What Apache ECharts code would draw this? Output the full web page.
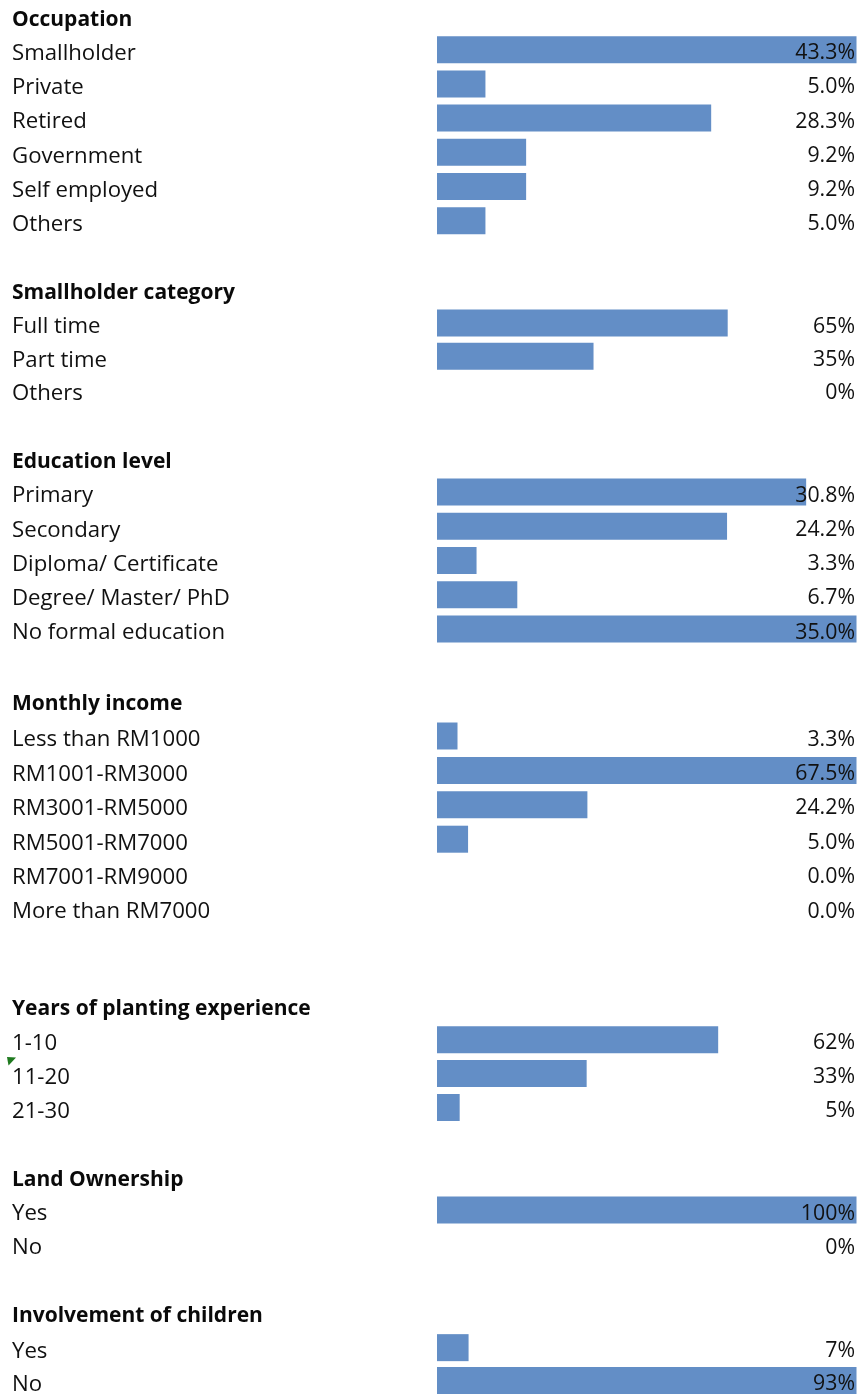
<!DOCTYPE html>
<html>
<head>
<meta charset="utf-8">
<script src="https://cdn.jsdelivr.net/npm/echarts@6/dist/echarts.min.js"></script>
<style>
html,body{margin:0;padding:0;background:#fff;}
#chart{width:858px;height:1397px;}
</style>
</head>
<body>
<div id="chart"></div>
<script>
// ---- Data ----
const sectionTitles = ['Occupation', 'Smallholder category', 'Education level', 'Monthly income',
  'Years of planting experience', 'Land Ownership', 'Involvement of children'];

const occupationCats = ['Smallholder', 'Private', 'Retired', 'Government', 'Self employed', 'Others'];
const occupationVals = [43.3, 5.0, 28.3, 9.2, 9.2, 5.0];

const categoryCats = ['Full time', 'Part time', 'Others'];
const categoryVals = [65, 35, 0];

const educationCats = ['Primary', 'Secondary', 'Diploma/ Certificate', 'Degree/ Master/ PhD', 'No formal education'];
const educationVals = [30.8, 24.2, 3.3, 6.7, 35.0];

const incomeCats = ['Less than RM1000', 'RM1001-RM3000', 'RM3001-RM5000', 'RM5001-RM7000', 'RM7001-RM9000', 'More than RM7000'];
const incomeVals = [3.3, 67.5, 24.2, 5.0, 0.0, 0.0];

const yearsCats = ['1-10', '11-20', '21-30'];
const yearsVals = [62, 33, 5];

const landCats = ['Yes', 'No'];
const landVals = [100, 0];

const childrenCats = ['Yes', 'No'];
const childrenVals = [7, 93];

// decimals shown in the value labels, and the data-bar scale maximum of each section
const labelDecimals = [1, 0, 1, 1, 0, 0, 0];
const scaleMax = [43.3, 93.8, 35.0, 67.5, 92.5, 100, 93];

const allCats = [occupationCats, categoryCats, educationCats, incomeCats, yearsCats, landCats, childrenCats];
const allVals = [occupationVals, categoryVals, educationVals, incomeVals, yearsVals, landVals, childrenVals];

// ---- Layout (pixel positions only) ----
const layout = [
  {head: 19.7, first: 49.7, pitch: 34.2},
  {head: 293, first: 323, pitch: 33.3},
  {head: 461.7, first: 492, pitch: 34.25},
  {head: 704, first: 736, pitch: 34.4},
  {head: 1009.5, first: 1039.7, pitch: 33.9},
  {head: 1180, first: 1210, pitch: 34},
  {head: 1316, first: 1348.3, pitch: 34.2}
];

const FONT = '"Open Sans", sans-serif';
const TEXT = '#111';
const BAR = '#638EC6';
const GRID_LEFT = 437;
const LABEL_X = 12;

const grids = [], xAxes = [], yAxes = [], series = [], graphics = [];

allCats.forEach((cats, i) => {
  const L = layout[i];
  const vals = allVals[i];
  grids.push({
    left: GRID_LEFT, right: 1.5,
    top: L.first - L.pitch / 2,
    height: L.pitch * cats.length,
    containLabel: false
  });
  xAxes.push({gridIndex: i, type: 'value', min: 0, max: scaleMax[i], show: false});
  yAxes.push({
    gridIndex: i, type: 'category', data: cats, inverse: true,
    axisLine: {show: false}, axisTick: {show: false}, splitLine: {show: false},
    axisLabel: {
      align: 'left', margin: GRID_LEFT - LABEL_X,
      fontFamily: FONT, fontSize: 22.2, color: TEXT,
      verticalAlign: 'top', lineHeight: 8
    }
  });
  series.push({
    type: 'bar', xAxisIndex: i, yAxisIndex: i, data: vals,
    barWidth: 27, silent: true, animation: false,
    itemStyle: {color: BAR}
  });
  series.push({
    type: 'bar', xAxisIndex: i, yAxisIndex: i,
    data: vals.map(() => scaleMax[i]),
    barWidth: 27, barGap: '-100%', silent: true, animation: false,
    itemStyle: {color: 'rgba(0,0,0,0)'},
    label: {
      show: true, position: 'insideRight', distance: 1.5, offset: [0, 3.5],
      formatter: p => vals[p.dataIndex].toFixed(labelDecimals[i]) + '%',
      fontFamily: FONT, fontSize: 21.3, color: TEXT,
      textBorderWidth: 0
    }
  });
  graphics.push({
    type: 'text', x: LABEL_X, y: L.head,
    style: {
      text: sectionTitles[i], fill: '#0a0a0a',
      font: 'bold 21px "Open Sans", sans-serif',
      align: 'left', verticalAlign: 'middle'
    }
  });
});

// Excel cell indicator beside "11-20"
graphics.push({
  type: 'polygon',
  shape: {points: [[7, 1057], [16, 1057.5], [8.5, 1065.5]]},
  style: {fill: '#1f7a1f'}
});

const chart = echarts.init(document.getElementById('chart'), null, {renderer: 'canvas'});
chart.setOption({
  animation: false,
  backgroundColor: '#fff',
  grid: grids,
  xAxis: xAxes,
  yAxis: yAxes,
  series: series,
  graphic: graphics
});
</script>
</body>
</html>
